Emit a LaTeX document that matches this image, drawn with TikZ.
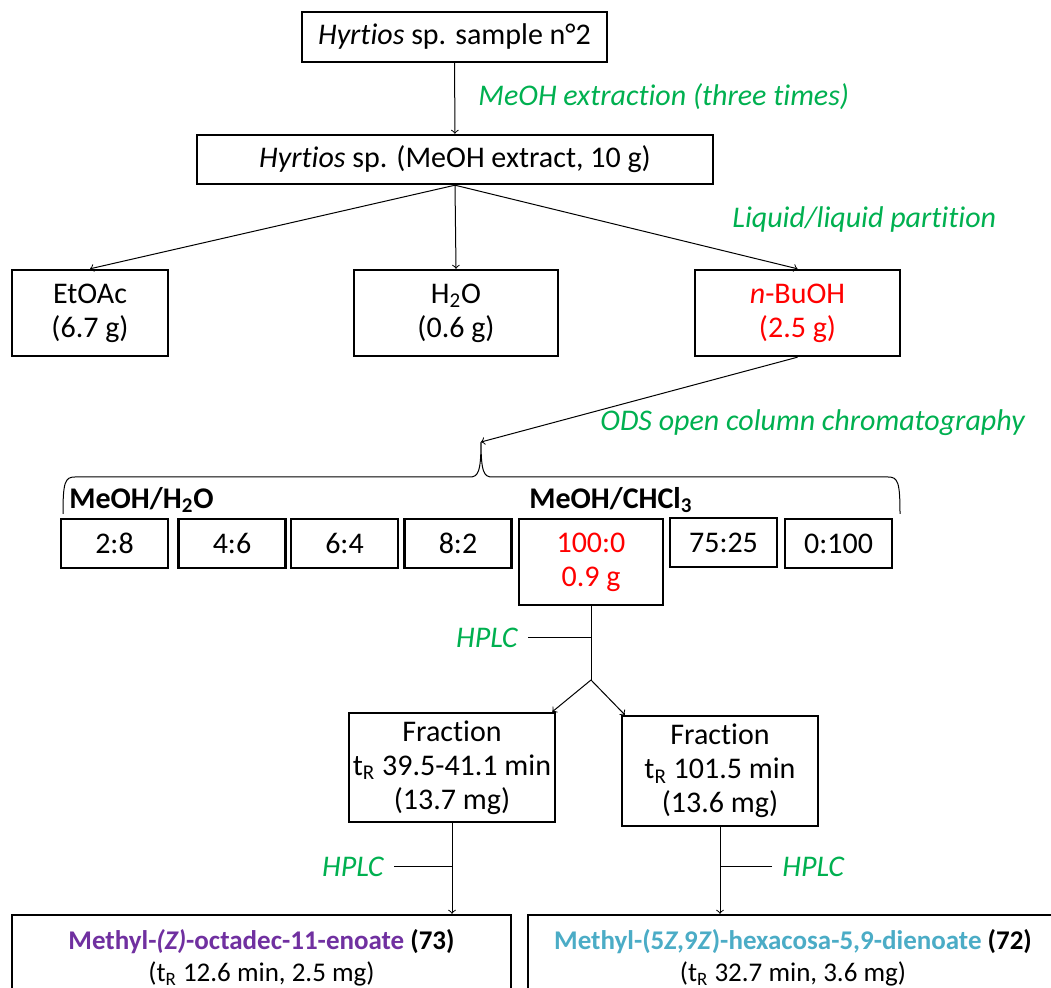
\documentclass[tikz,border=0pt]{standalone}
\usepackage{fontspec}
\setmainfont{Carlito}[Ligatures=CommonOff]
\usetikzlibrary{positioning}
\definecolor{stepgreen}{RGB}{0,176,80}
\definecolor{cpdpurple}{RGB}{112,48,160}
\definecolor{cpdblue}{RGB}{75,172,198}

\begin{document}
\begin{tikzpicture}[x=0.5pt,y=-0.5pt,
    box/.style={draw,line width=1.2pt,align=center,inner sep=2pt,font=\fontsize{15}{17}\selectfont},
    cond/.style={text=stepgreen,inner sep=0pt,font=\fontsize{15}{17}\selectfont\itshape},
    solv/.style={inner sep=0pt,font=\fontsize{15}{17}\selectfont\bfseries},
    link/.style={line width=0.5pt}]
    \useasboundingbox (0,0) rectangle (1051,988);
    % sample and extract
    \node[box,minimum width=152.5pt,minimum height=25pt] (sample) at (454.5,37) {\textit{Hyrtios} sp. sample n°2};
    \node[box,minimum width=258pt,minimum height=24.5pt] (extract) at (455,159.5) {\textit{Hyrtios} sp. (MeOH extract, 10 g)};
    \draw[link,->] (sample) -- (extract);
    \node[cond,anchor=west] (meoh) at (478,97) {MeOH extraction (three times)};
    % partition
    \node[box,minimum width=78pt,minimum height=43pt] (etoac) at (90,313) {EtOAc\\(6.7 g)};
    \node[box,minimum width=102pt,minimum height=43pt] (water) at (456,313) {H\textsubscript{2}O\\(0.6 g)};
    \node[box,minimum width=102.5pt,minimum height=43pt,text=red] (buoh) at (797.5,313) {\textit{n}-BuOH\\(2.5 g)};
    \foreach\p in {etoac,water,buoh}
      \draw[link,->] (extract.south) -- (\p.north);
    \node[cond,anchor=west] (partition) at (732,220) {Liquid/liquid partition};
    % ODS column
    \coordinate (tip) at (481,442);
    \draw[link,->] (buoh.south) -- (tip);
    \node[cond,anchor=west] (ods) at (600,423) {ODS open column chromatography};
    \draw[link] (63,514) .. controls (63,482) and (65,477) .. (75,477) -- (470,477)
      .. controls (478,477) and (481,472) .. (tip)
      .. controls (481,472) and (484,477) .. (492,477) -- (888,477)
      .. controls (898,477) and (900,482) .. (900,514);
    \node[solv,anchor=west] (water2) at (69,500) {MeOH/H\textsubscript{2}O};
    \node[solv,anchor=west] (chcl3) at (529,500) {MeOH/CHCl\textsubscript{3}};
    \foreach\x/\t/\n in {114.5/2:8/r1,232/4:6/r2,344.5/6:4/r3,458/8:2/r4,838.5/0:100/r7}
      \node[box,minimum width=53.5pt,minimum height=24.5pt] (\n) at (\x,543.5) {\t};
    \node[box,minimum width=53.5pt,minimum height=24.5pt] (r6) at (723.5,542.5) {75:25};
    \node[box,minimum width=72pt,minimum height=43pt,text=red] (r5) at (591,562) {100:0\\0.9 g};
    % HPLC of 100:0 fraction
    \coordinate (split) at (591,680);
    \draw[link] (r5.south) -- (split);
    \node[cond,anchor=east] (hplc1) at (518,638) {HPLC};
    \draw[link] ([xshift=5pt]hplc1.east) -- (hplc1.east -| split);
    \node[box,minimum width=98pt,minimum height=54.5pt] (frac1) at (452,767.5) {Fraction\\t\textsubscript{R} 39.5-41.1 min\\(13.7 mg)};
    \node[box,minimum width=98pt,minimum height=55pt] (frac2) at (720,771) {Fraction\\t\textsubscript{R} 101.5 min\\(13.6 mg)};
    \draw[link,->] (split) -- ([xshift=-2pt]frac1.north east);
    \draw[link,->] (split) -- ([xshift=2pt]frac2.north west);
    % pure compounds
    \node[box,minimum width=249.5pt,minimum height=42.5pt,font=\fontsize{13.5}{16}\selectfont] (cpd73) at (261.5,957.5)
      {\textbf{\textcolor{cpdpurple}{Methyl-\textit{(Z)}-octadec-11-enoate} (73)}\\(t\textsubscript{R} 12.6 min, 2.5 mg)};
    \node[box,minimum width=265pt,minimum height=42.5pt,font=\fontsize{13.5}{16}\selectfont] (cpd72) at (793,957.5)
      {\textbf{\textcolor{cpdblue}{Methyl-(5\textit{Z},9\textit{Z})-hexacosa-5,9-dienoate} (72)}\\(t\textsubscript{R} 32.7 min, 3.6 mg)};
    \draw[link,->] (frac1.south) -- (frac1.south |- cpd73.north);
    \draw[link,->] (frac2.south) -- (frac2.south |- cpd72.north);
    \node[cond,anchor=east] (hplc2) at (384,867) {HPLC};
    \draw[link] ([xshift=5pt]hplc2.east) -- (hplc2.east -| frac1.south);
    \node[cond,anchor=west] (hplc3) at (782,867) {HPLC};
    \draw[link] ([xshift=-5pt]hplc3.west) -- (hplc3.west -| frac2.south);
\end{tikzpicture}
\end{document}
